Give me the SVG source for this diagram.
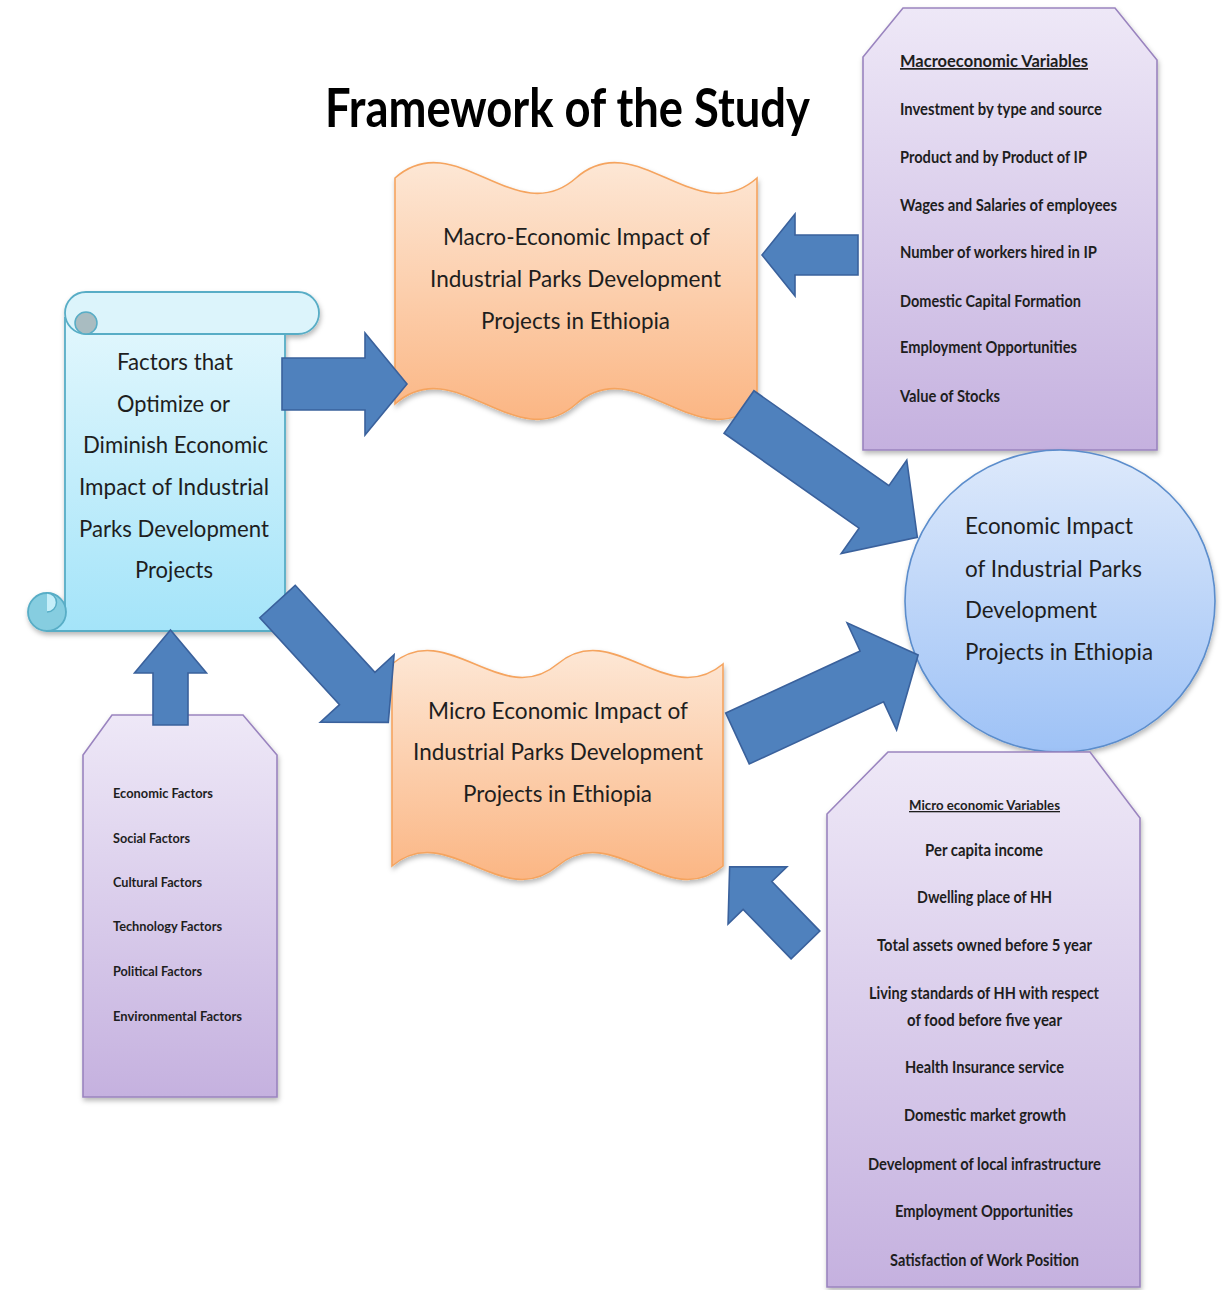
<svg xmlns="http://www.w3.org/2000/svg" width="1222" height="1290" viewBox="0 0 1222 1290">
  <defs>
    <linearGradient id="gPurple" x1="0" y1="0" x2="0" y2="1">
      <stop offset="0" stop-color="#eee8f7"/>
      <stop offset="1" stop-color="#c5b1df"/>
    </linearGradient>
    <linearGradient id="gOrange" x1="0" y1="0" x2="0" y2="1">
      <stop offset="0" stop-color="#fde7d5"/>
      <stop offset="1" stop-color="#fbb684"/>
    </linearGradient>
    <linearGradient id="gCyan" x1="0" y1="0" x2="0" y2="1">
      <stop offset="0" stop-color="#e2f7fd"/>
      <stop offset="1" stop-color="#a4e4f9"/>
    </linearGradient>
    <linearGradient id="gBlue" x1="0" y1="0" x2="0" y2="1">
      <stop offset="0" stop-color="#dde9fb"/>
      <stop offset="1" stop-color="#9ec2f6"/>
    </linearGradient>
    <filter id="shadow" x="-10%" y="-10%" width="120%" height="125%">
      <feDropShadow dx="1" dy="3" stdDeviation="2.5" flood-color="#000" flood-opacity="0.28"/>
    </filter>
    <style>
      .purple { fill: url(#gPurple); stroke: #9a84bf; stroke-width: 1.6; }
      .orange { fill: url(#gOrange); stroke: #f5a45f; stroke-width: 1.6; }
      .cyan { fill: url(#gCyan); stroke: #58adc6; stroke-width: 1.8; }
      .bubble { fill: url(#gBlue); stroke: #5b8dcc; stroke-width: 1.6; }
      .arrow { fill: #4f81bd; stroke: #3a619c; stroke-width: 1.6; stroke-linejoin: miter; }
      text { font-family: Lato, "Liberation Sans", Arial, sans-serif; fill: #1e1e1e; }
      .title { font-size: 54px; font-weight: bold; fill: #000; }
      .label { font-size: 24px; }
      .item { font-size: 17px; font-weight: bold; }
      .small { font-size: 13px; font-weight: bold; }
      .head { text-decoration: underline; }
    </style>
  </defs>

  <rect width="1222" height="1290" fill="#fff"/>

  <text class="title" x="325" y="127" textLength="485" lengthAdjust="spacingAndGlyphs">Framework of the Study</text>

  <!-- Macroeconomic variables tag -->
  <g id="macro-variables">
    <path class="purple" filter="url(#shadow)" d="M903,8 H1115 L1157,60 V450 H863 V57 Z"/>
    <text class="item head" x="900" y="67" textLength="188" lengthAdjust="spacingAndGlyphs">Macroeconomic Variables</text>
    <text class="item" x="900" y="115" textLength="202" lengthAdjust="spacingAndGlyphs">Investment by type and source</text>
    <text class="item" x="900" y="163" textLength="187" lengthAdjust="spacingAndGlyphs">Product and by Product of IP</text>
    <text class="item" x="900" y="211" textLength="217" lengthAdjust="spacingAndGlyphs">Wages and Salaries of employees</text>
    <text class="item" x="900" y="258" textLength="197" lengthAdjust="spacingAndGlyphs">Number of workers hired in IP</text>
    <text class="item" x="900" y="307" textLength="181" lengthAdjust="spacingAndGlyphs">Domestic Capital Formation</text>
    <text class="item" x="900" y="353" textLength="177" lengthAdjust="spacingAndGlyphs">Employment Opportunities</text>
    <text class="item" x="900" y="402" textLength="100" lengthAdjust="spacingAndGlyphs">Value of Stocks</text>
  </g>

  <!-- Factors scroll -->
  <g id="factors-scroll">
    <g filter="url(#shadow)">
      <path class="cyan" d="M65,318 H285 V631 H47 V612 H65 Z"/>
      <circle cx="47" cy="612" r="19" fill="#86cde0" stroke="#58adc6" stroke-width="1.8"/>
      <path d="M47,593 A9.5,9.5 0 0 1 47,612" fill="#c5eef9" stroke="#58adc6" stroke-width="1.5"/>
      <path class="cyan" d="M86,292 H298 A21,21 0 0 1 298,334 H86 A21,21 0 0 1 86,292 Z" style="fill:#dcf4fb"/>
      <circle cx="86" cy="323" r="11" fill="#a9bcc1" stroke="#58adc6" stroke-width="1.5"/>
    </g>
    <text class="label" x="117" y="370" textLength="116" lengthAdjust="spacingAndGlyphs">Factors that</text>
    <text class="label" x="117" y="412" textLength="113" lengthAdjust="spacingAndGlyphs">Optimize or</text>
    <text class="label" x="83" y="453" textLength="185" lengthAdjust="spacingAndGlyphs">Diminish Economic</text>
    <text class="label" x="79" y="495" textLength="190" lengthAdjust="spacingAndGlyphs">Impact of Industrial</text>
    <text class="label" x="79" y="537" textLength="190" lengthAdjust="spacingAndGlyphs">Parks Development</text>
    <text class="label" x="135" y="578" textLength="78" lengthAdjust="spacingAndGlyphs">Projects</text>
  </g>

  <!-- Macro-economic impact (double wave) -->
  <g id="macro-impact">
    <path class="orange" filter="url(#shadow)" d="M395,178 C455.3,124.7 515.7,231.3 576,178 C636.3,124.7 696.7,231.3 757,178 L757,404 C696.7,457.3 636.3,350.7 576,404 C515.7,457.3 455.3,350.7 395,404 Z"/>
    <text class="label" x="443" y="245" textLength="267" lengthAdjust="spacingAndGlyphs">Macro-Economic Impact of</text>
    <text class="label" x="430" y="287" textLength="291" lengthAdjust="spacingAndGlyphs">Industrial Parks Development</text>
    <text class="label" x="481" y="329" textLength="189" lengthAdjust="spacingAndGlyphs">Projects in Ethiopia</text>
  </g>

  <!-- Micro economic impact (double wave) -->
  <g id="micro-impact">
    <path class="orange" filter="url(#shadow)" d="M392,664 C447.2,617.3 502.3,710.7 557.5,664 C612.7,617.3 667.8,710.7 723,664 L723,866 C667.8,912.7 612.7,819.3 557.5,866 C502.3,912.7 447.2,819.3 392,866 Z"/>
    <text class="label" x="428" y="719" textLength="260" lengthAdjust="spacingAndGlyphs">Micro Economic Impact of</text>
    <text class="label" x="413" y="760" textLength="290" lengthAdjust="spacingAndGlyphs">Industrial Parks Development</text>
    <text class="label" x="463" y="802" textLength="189" lengthAdjust="spacingAndGlyphs">Projects in Ethiopia</text>
  </g>

  <!-- Economic impact circle -->
  <g id="economic-impact">
    <ellipse class="bubble" filter="url(#shadow)" cx="1060" cy="601" rx="155" ry="151"/>
    <text class="label" x="965" y="534" textLength="168" lengthAdjust="spacingAndGlyphs">Economic Impact</text>
    <text class="label" x="965" y="577" textLength="177" lengthAdjust="spacingAndGlyphs">of Industrial Parks</text>
    <text class="label" x="965" y="618" textLength="132" lengthAdjust="spacingAndGlyphs">Development</text>
    <text class="label" x="965" y="660" textLength="188" lengthAdjust="spacingAndGlyphs">Projects in Ethiopia</text>
  </g>

  <!-- Factor categories tag -->
  <g id="factor-list">
    <path class="purple" filter="url(#shadow)" d="M112,715 H243 L277,755 V1097 H83 V755 Z"/>
    <text class="small" x="113" y="798" textLength="100" lengthAdjust="spacingAndGlyphs">Economic Factors</text>
    <text class="small" x="113" y="843" textLength="77" lengthAdjust="spacingAndGlyphs">Social Factors</text>
    <text class="small" x="113" y="887" textLength="89" lengthAdjust="spacingAndGlyphs">Cultural Factors</text>
    <text class="small" x="113" y="931" textLength="109" lengthAdjust="spacingAndGlyphs">Technology Factors</text>
    <text class="small" x="113" y="976" textLength="89" lengthAdjust="spacingAndGlyphs">Political Factors</text>
    <text class="small" x="113" y="1021" textLength="129" lengthAdjust="spacingAndGlyphs">Environmental Factors</text>
  </g>

  <!-- Microeconomic variables tag -->
  <g id="micro-variables">
    <path class="purple" filter="url(#shadow)" d="M888,752 H1090 L1140,818 V1287 H827 V814 Z"/>
    <text class="small head" x="909" y="810" textLength="151" lengthAdjust="spacingAndGlyphs">Micro economic Variables</text>
    <text class="item" x="925" y="856" textLength="118" lengthAdjust="spacingAndGlyphs">Per capita income</text>
    <text class="item" x="917" y="903" textLength="135" lengthAdjust="spacingAndGlyphs">Dwelling place of HH</text>
    <text class="item" x="877" y="951" textLength="215" lengthAdjust="spacingAndGlyphs">Total assets owned before 5 year</text>
    <text class="item" x="869" y="999" textLength="230" lengthAdjust="spacingAndGlyphs">Living standards of HH with respect</text>
    <text class="item" x="907" y="1026" textLength="155" lengthAdjust="spacingAndGlyphs">of food before five year</text>
    <text class="item" x="905" y="1073" textLength="159" lengthAdjust="spacingAndGlyphs">Health Insurance service</text>
    <text class="item" x="904" y="1121" textLength="162" lengthAdjust="spacingAndGlyphs">Domestic market growth</text>
    <text class="item" x="868" y="1170" textLength="233" lengthAdjust="spacingAndGlyphs">Development of local infrastructure</text>
    <text class="item" x="895" y="1217" textLength="178" lengthAdjust="spacingAndGlyphs">Employment Opportunities</text>
    <text class="item" x="890" y="1266" textLength="189" lengthAdjust="spacingAndGlyphs">Satisfaction of Work Position</text>
  </g>

  <!-- Block arrows: each drawn along +x from its tail, then placed -->
  <g id="connectors">
    <polygon class="arrow" transform="translate(282,384)" points="0,-26 83,-26 83,-51 125,0 83,51 83,26 0,26"/>
    <polygon class="arrow" transform="translate(858,255) rotate(180)" points="0,-20 63,-20 63,-41 96,0 63,41 63,20 0,20"/>
    <polygon class="arrow" transform="translate(739,412) rotate(35.1)" points="0,-26 165,-26 165,-57 218,0 165,57 165,26 0,26"/>
    <polygon class="arrow" transform="translate(277.5,601.5) rotate(47.5)" points="0,-24 118,-24 118,-50 164,0 118,50 118,24 0,24"/>
    <polygon class="arrow" transform="translate(737.5,738.5) rotate(-24.8)" points="0,-28 148,-28 148,-59 199,0 148,59 148,28 0,28"/>
    <polygon class="arrow" transform="translate(805.5,945) rotate(-134.1)" points="0,-20 69,-20 69,-41 109,0 69,41 69,20 0,20"/>
    <polygon class="arrow" transform="translate(170.5,725) rotate(-90)" points="0,-17.5 52,-17.5 52,-36 95,0 52,36 52,17.5 0,17.5"/>
  </g>
</svg>
